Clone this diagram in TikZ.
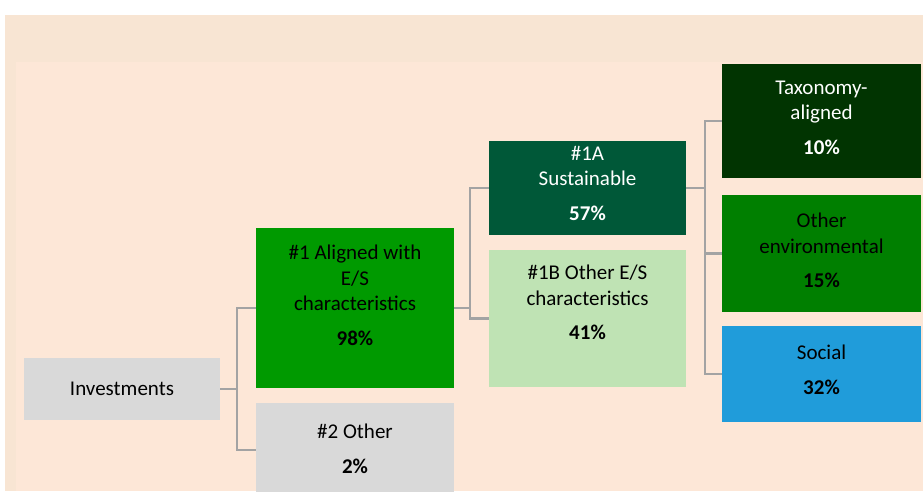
\documentclass[tikz,border=0pt]{standalone}
\usepackage{fontspec}
\setmainfont{Carlito}

\definecolor{peachout}{HTML}{F8E5D3}
\definecolor{peachin}{HTML}{FDE7D7}
\definecolor{boxgray}{HTML}{D9D9D9}
\definecolor{alignedgreen}{HTML}{009A00}
\definecolor{sustgreen}{HTML}{005838}
\definecolor{otheresgreen}{HTML}{BFE3B4}
\definecolor{taxgreen}{HTML}{013401}
\definecolor{envgreen}{HTML}{007F00}
\definecolor{socialblue}{HTML}{209CDA}
\definecolor{linegray}{HTML}{A3A3A3}

\tikzset{
  box/.style={rectangle, inner sep=0pt, fill=#1},
  txt/.style={align=center, inner sep=0pt, anchor=north, font=\fontsize{21}{25.5}\selectfont},
  conn/.style={draw=linegray, line width=2.5pt},
}

\begin{document}
\begin{tikzpicture}[x=1pt,y=-1pt]
\useasboundingbox (0,0) rectangle (923,491);
\clip (0,0) rectangle (923,491);

% background
\fill[peachout] (5,15) rectangle (923,491);
\fill[peachin] (16,62) rectangle (923,491);

% first level
\node (inv) at (122,389) [box=boxgray, minimum width=196, minimum height=62]
  {\fontsize{21}{25.5}\selectfont Investments};

% second level
\node (al) at (355,308) [box=alignedgreen, minimum width=198, minimum height=160,
  label={[txt, yshift=-17pt]north:{\#1 Aligned with\\E/S\\characteristics\\[9pt]\textbf{98\%}}}] {};
\node (oth) at (355,450) [box=boxgray, minimum width=198, minimum height=94,
  label={[txt, yshift=-21pt]north:{\#2 Other\\[9pt]\textbf{2\%}}}] {};

% third level
\node (sus) at (587.5,188) [box=sustgreen, minimum width=197, minimum height=94,
  label={[txt, text=white, yshift=-5pt]north:{\#1A\\Sustainable\\[9pt]\textbf{57\%}}}] {};
\node (oes) at (587.5,318.5) [box=otheresgreen, minimum width=197, minimum height=137,
  label={[txt, yshift=-15pt]north:{\#1B Other E/S\\characteristics\\[9pt]\textbf{41\%}}}] {};

% fourth level
\node (tax) at (821.5,121) [box=taxgreen, minimum width=199, minimum height=114,
  label={[txt, text=white, yshift=-17pt]north:{Taxonomy-\\aligned\\[9pt]\textbf{10\%}}}] {};
\node (env) at (821.5,253.5) [box=envgreen, minimum width=199, minimum height=117,
  label={[txt, yshift=-18pt]north:{Other\\environmental\\[9pt]\textbf{15\%}}}] {};
\node (soc) at (821.5,374) [box=socialblue, minimum width=199, minimum height=96,
  label={[txt, yshift=-19pt]north:{Social\\[9pt]\textbf{32\%}}}] {};

% connectors
\foreach \child in {al,oth}
{
    \draw[conn] (inv.east) -- ++(17,0) |- (\child.west);
}
\foreach \child in {sus,oes}
{
    \draw[conn] (al.east) -- ++(16,0) |- (\child.west);
}
\foreach \child in {tax,env,soc}
{
    \draw[conn] (sus.east) -- ++(19,0) |- (\child.west);
}
\end{tikzpicture}
\end{document}
